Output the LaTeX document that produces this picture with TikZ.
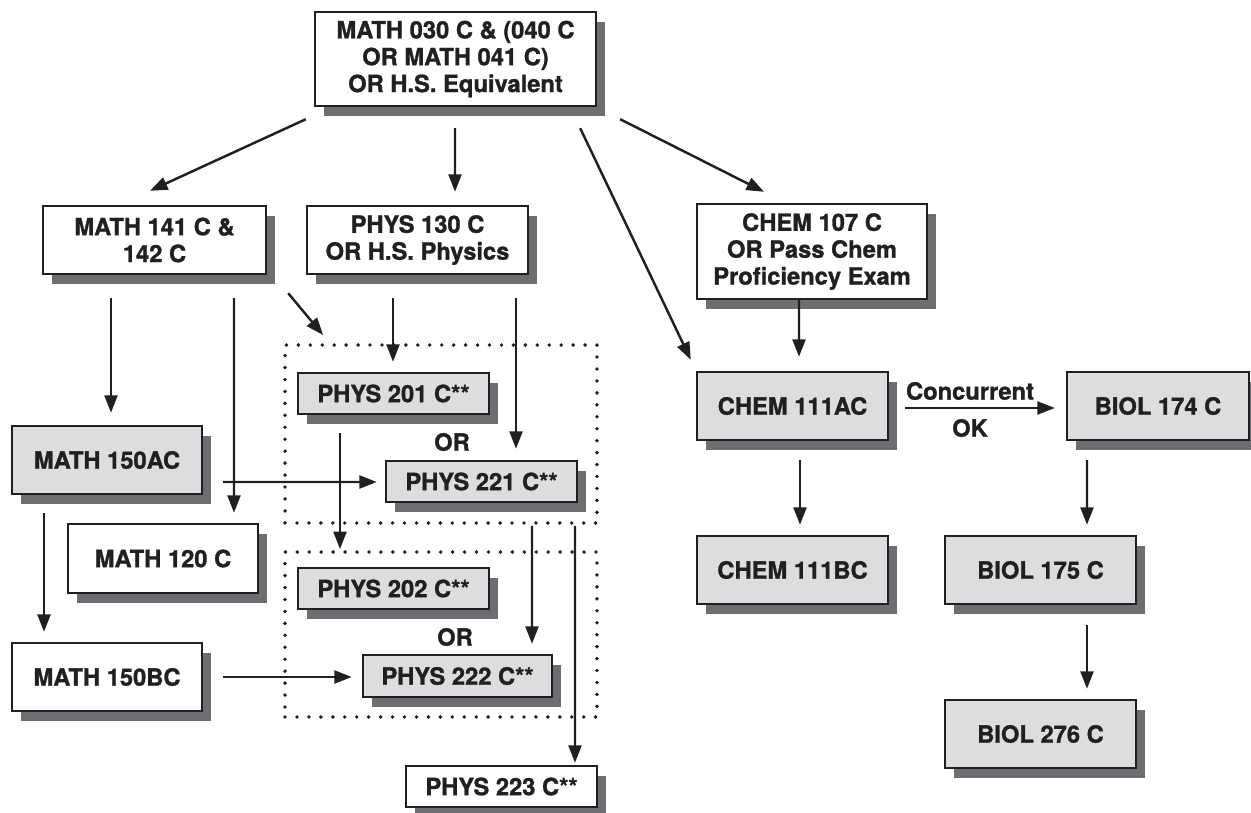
\documentclass[tikz,border=0pt]{standalone}
\usepackage{fontspec}
\setmainfont{TeX Gyre Heros}[BoldFeatures={FakeBold=1.2}]
\usetikzlibrary{arrows.meta,shadows,calc}
\definecolor{boxgray}{HTML}{DCDDDF}
\definecolor{shadowgray}{HTML}{6D6E71}
\definecolor{ink}{HTML}{231F20}
\tikzset{
  basebox/.style={draw=ink, line width=1.4pt, inner sep=0pt, align=center,
    font=\bfseries\fontsize{13.5}{15.3}\selectfont, text=ink,
    drop shadow={shadow xshift=0.18cm, shadow yshift=-0.2cm, fill=shadowgray, opacity=1}},
  wbox/.style={basebox, fill=white},
  gbox/.style={basebox, fill=boxgray},
  dotbox/.style={draw=ink, line width=2.2pt, line cap=round, dash pattern=on 0pt off 6.8pt, inner sep=0pt},
  lbl/.style={font=\bfseries\fontsize{13.5}{15.3}\selectfont, text=ink, inner sep=0pt},
  arr/.style={draw=ink, line width=1.4pt, -{Triangle[length=0.35cm,width=0.26cm]}},
}
\begin{document}
\begin{tikzpicture}[x=0.02cm, y=-0.02cm]
\useasboundingbox (0,0) rectangle (1251,812);
% dotted groups
\node[dotbox, minimum width=6.24cm, minimum height=3.56cm] (d1) at (441,434) {};
\node[dotbox, minimum width=6.24cm, minimum height=3.30cm] (d2) at (441,634.5) {};
% boxes
\node[wbox, minimum width=5.62cm, minimum height=1.88cm] (top) at (455.5,59) {MATH 030 C \& (040 C\\OR MATH 041 C)\\OR H.S. Equivalent};
\node[wbox, minimum width=4.46cm, minimum height=1.36cm] (math141) at (154.5,240) {MATH 141 C \&\\142 C};
\node[wbox, minimum width=4.42cm, minimum height=1.36cm] (phys130) at (417.5,240) {PHYS 130 C\\OR H.S. Physics};
\node[wbox, minimum width=4.60cm, minimum height=1.90cm] (chem107) at (812,251.5) {CHEM 107 C\\OR Pass Chem\\Proficiency Exam};
\node[gbox, minimum width=3.80cm, minimum height=1.36cm] (math150ac) at (107,460) {MATH 150AC};
\node[wbox, minimum width=3.80cm, minimum height=1.38cm] (math120) at (163,558.5) {MATH 120 C};
\node[wbox, minimum width=3.80cm, minimum height=1.36cm] (math150bc) at (107,677) {MATH 150BC};
\node[gbox, minimum width=3.82cm, minimum height=0.82cm] (phys201) at (393.5,393.5) {PHYS 201 C**};
\node[gbox, minimum width=3.82cm, minimum height=0.82cm] (phys221) at (481.5,481.5) {PHYS 221 C**};
\node[gbox, minimum width=3.82cm, minimum height=0.82cm] (phys202) at (393.5,588.5) {PHYS 202 C**};
\node[gbox, minimum width=3.78cm, minimum height=0.84cm] (phys222) at (457.5,676) {PHYS 222 C**};
\node[wbox, minimum width=3.82cm, minimum height=0.82cm] (phys223) at (501.5,786.5) {PHYS 223 C**};
\node[gbox, minimum width=3.82cm, minimum height=1.36cm] (chem111ac) at (792.5,406) {CHEM 111AC};
\node[gbox, minimum width=3.64cm, minimum height=1.36cm] (biol174) at (1158,406) {BIOL 174 C};
\node[gbox, minimum width=3.82cm, minimum height=1.36cm] (chem111bc) at (792.5,570) {CHEM 111BC};
\node[gbox, minimum width=3.82cm, minimum height=1.36cm] (biol175) at (1040.5,570) {BIOL 175 C};
\node[gbox, minimum width=3.82cm, minimum height=1.36cm] (biol276) at (1040.5,734) {BIOL 276 C};
% labels
\node[lbl] (or1) at (452,442) {OR};
\node[lbl] (or2) at (455,637) {OR};
\node[lbl] (conc) at (970,391) {Concurrent};
\node[lbl] (ok) at (970,428) {OK};
% connectors
\draw[arr] ($(top.south west)+(-8,12)$) -- ($(math141.north)+(-4.5,-14)$);
\draw[arr] ($(top.south)+(-0.5,21)$) -- ($(phys130.north)+(37.5,-13)$);
\draw[arr] ($(top.south east)+(-17,21)$) -- ($(chem111ac.north west)+(-5,-11)$);
\draw[arr] ($(top.south east)+(23,12)$) -- ($(chem107.north)+(-48,-11)$);
\draw[arr] ($(math141.south)+(-43.5,23)$) -- ($(math150ac.north)+(4,-12)$);
\draw[arr] ($(math141.south)+(79.5,23)$) -- ($(math120.north)+(71,-10)$);
\draw[arr] ($(math141.south east)+(21,18)$) -- ($(d1.north west)+(40,-8)$);
\draw[arr] ($(phys130.south)+(-24.5,23)$) -- ($(phys201.north)+(-0.5,-10)$);
\draw[arr] ($(phys130.south)+(98.5,23)$) -- ($(phys221.north)+(34.5,-11)$);
\draw[arr] ($(phys201.south)+(-53.5,18)$) -- ($(d2.north)+(-101,-1)$);
\draw[arr] ($(math150ac.east)+(20,22)$) -- ($(phys221.west)+(-8,0.5)$);
\draw[arr] ($(math150ac.south)+(-63,18)$) -- ($(math150bc.north)+(-63,-10)$);
\draw[arr] ($(math150bc.east)+(20,0)$) -- ($(phys222.west)+(-10,1)$);
\draw[arr] ($(d1.south)+(91,1)$) -- ($(phys222.north)+(74.5,-10)$);
\draw[arr] ($(d1.south)+(134,1)$) -- ($(phys223.north)+(73.5,-2)$);
\draw[arr] ($(chem107.south)+(-13,0)$) -- ($(chem111ac.north)+(6.5,-14)$);
\draw[arr] ($(chem111ac.south)+(7.5,19)$) -- ($(chem111bc.north)+(7.5,-10)$);
\draw[arr] ($(chem111ac.east)+(16,2)$) -- ($(biol174.west)+(-11,2)$);
\draw[arr] ($(biol174.south)+(-71,19)$) -- ($(biol175.north)+(46.5,-10)$);
\draw[arr] ($(biol175.south)+(46.5,20)$) -- ($(biol276.north)+(46.5,-10)$);
\end{tikzpicture}
\end{document}
